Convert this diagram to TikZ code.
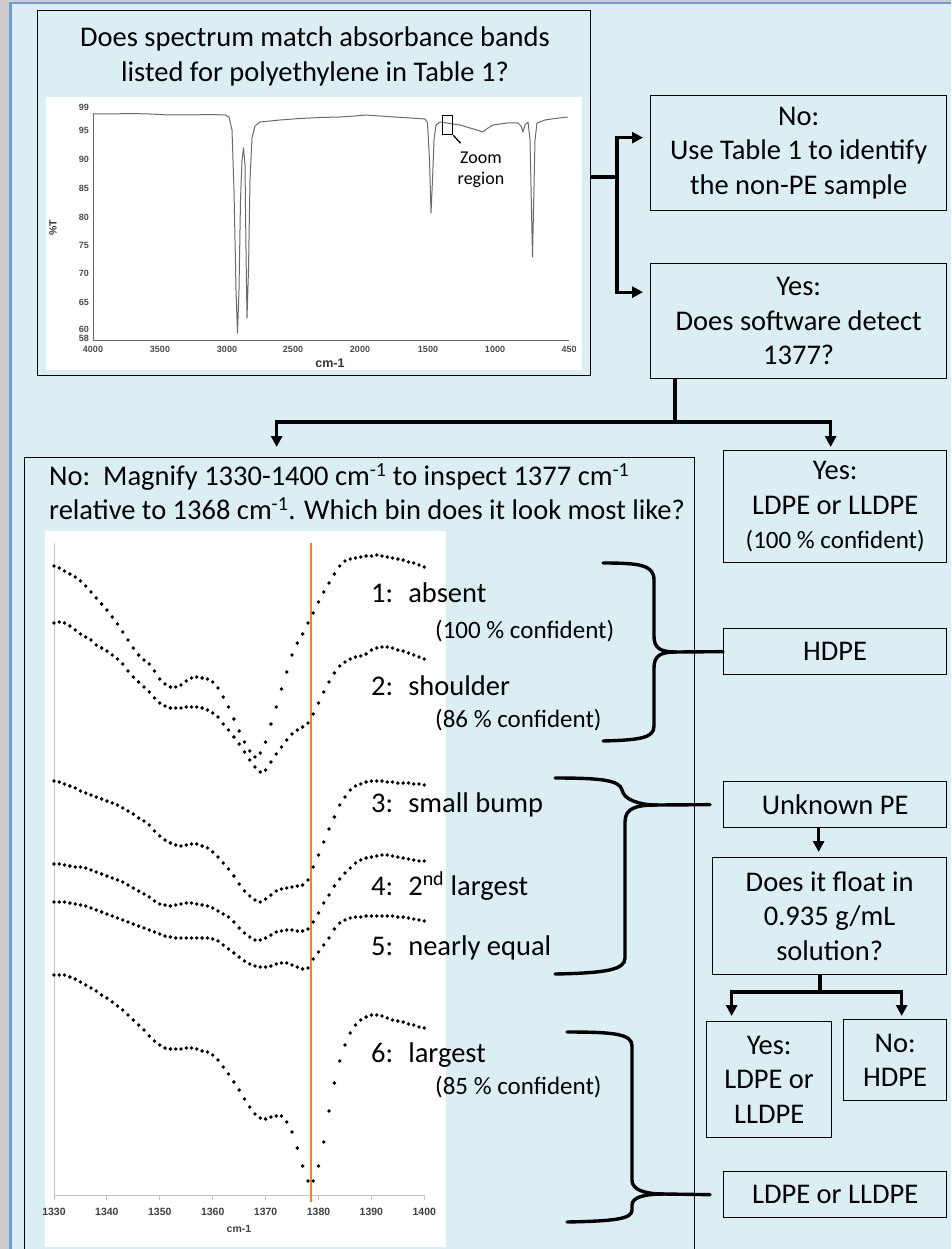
\documentclass[tikz,border=0pt]{standalone}
\usepackage{fontspec}
\setmainfont{Carlito}
\newfontfamily\axisfont{Liberation Sans}
\usetikzlibrary{arrows.meta,calc}
\definecolor{fondo}{HTML}{DAEEF3}
\definecolor{marco}{HTML}{6F9BD8}
\definecolor{gristira}{HTML}{CDCDCD}
\definecolor{naranja}{HTML}{F07F2F}
\definecolor{traza}{HTML}{6A6A6A}
\definecolor{eje}{HTML}{C4C4C4}
\newcommand\bigtxt{\fontsize{28.5}{34.5}\selectfont}
\newcommand\smalltxt{\fontsize{25}{30}\selectfont}
\newcommand\bindots[1]{\foreach \y [count=\i from 0] in {#1} \fill (54+5.29*\i,\y) circle[radius=1.9pt];}

\begin{document}
\begin{tikzpicture}[x=1pt, y=-1pt, font=\bigtxt,
  box/.style={draw, line width=1.3pt, align=center, inner sep=0pt, anchor=north west},
  lbl/.style={anchor=base west, inner sep=0pt},
  line/.style={line width=3.3pt},
  arr/.style={line width=3.3pt, -{Triangle[length=11pt,width=11pt]}},
  brace/.style={line width=3.4pt, line cap=round},
  specnum/.style={font=\axisfont\fontsize{9}{10}\selectfont\bfseries, text=black!70, inner sep=0pt},
  binnum/.style={font=\axisfont\fontsize{10.5}{12}\selectfont\bfseries, text=black!75, inner sep=0pt}]
\useasboundingbox (0,0) rectangle (951,1249);
% slide background
\fill[gristira] (0,0) rectangle (951,1249);
\fill[fondo] (11,3.5) rectangle (951,1249);
\draw[marco, line width=2.5pt] (10.5,1249) -- (10.5,3) -- (951,3);

% top question with the full spectrum
\node[box, minimum width=553pt, minimum height=365pt] (q1) at (37,10) {};
\node[anchor=north, align=center, inner sep=0pt] (q1title) at (315,27) {Does spectrum match absorbance bands\\listed for polyethylene in Table 1?};
\fill[white] (46,97) rectangle (582,370);
\draw[traza, line width=0.8pt] (93,113) -- (93,340) -- (569,340);
\foreach \v/\yy in {99/107,95/130,90/159,85/188,80/217,75/245,70/273,65/302,60/329,58/338}
  \node[specnum, anchor=east] (sy\v) at (89,\yy) {\v};
\foreach \w/\xx in {4000/93,3500/160,3000/227,2500/293,2000/360,1500/428,1000/495,450/569}
  \node[specnum] (sx\w) at (\xx,349) {\w};
\node[font=\axisfont\fontsize{12.5}{14}\selectfont\bfseries, text=black!80, inner sep=0pt] (specunit) at (330,363) {cm-1};
\node[font=\axisfont\fontsize{10.5}{12}\selectfont\bfseries, text=black!80, inner sep=0pt, rotate=90] (specT) at (53,228) {\%T};
\draw[traza, line width=1pt, line join=round] plot coordinates {(93,114) (110,114) (130,113.5) (150,114) (170,115) (190,115) (210,114.5) (225,115) (229,117) (232,130) (234,190) (236,290) (237.5,333) (239,290) (240.5,200) (242,160) (243.5,148) (245,165) (246,250) (247,318) (248.5,270) (250,180) (252,138) (255,126) (260,122) (280,120) (300,118.5) (320,117.5) (340,117) (355,116) (365,115) (380,116) (395,117) (410,118) (425,119) (427.5,123) (429.5,160) (431,213) (432.5,180) (434,140) (436,125) (440,122) (447,123) (460,125) (470,128) (477,130) (483,132) (488,128) (493,125) (507,123) (518,123) (521,126) (523,132) (525,125) (528,122) (530,140) (531.5,210) (532.5,257) (533.5,210) (535,140) (537,123) (545,120) (555,118.5) (568,117)};
\node[draw, line width=1.3pt, minimum width=10pt, minimum height=19pt, inner sep=0pt, anchor=north west] (zbox) at (442,115) {};
\node[font=\fontsize{18}{20.5}\selectfont, align=center, inner sep=0pt] (ztxt) at (481,170) {Zoom\\region};
\draw[line width=1.3pt] (zbox.south east) -- ([xshift=3pt,yshift=9pt]ztxt.north west);

% first decision
\node[box, minimum width=296pt, minimum height=115pt] (no1) at (650,95) {No:\\Use Table 1 to identify\\the non-PE sample};
\node[box, minimum width=296pt, minimum height=115pt] (yes1) at (650,263) {Yes:\\Does software detect\\1377?};
\coordinate (sp1) at (617,177);
\draw[line] (q1.east |- sp1) -- (sp1);
\draw[arr, shorten >=7pt] (sp1) |- ([yshift=15.5pt]no1.west);
\draw[arr, shorten >=7pt] (sp1) |- ([yshift=29pt]yes1.west);

% second decision
\node[box, minimum width=670pt, minimum height=820pt] (mag) at (24,457) {};
\node[anchor=north west, align=left, inner sep=0pt] (magtxt) at (49,463) {No:\ \ Magnify 1330-1400 cm\textsuperscript{-1} to inspect 1377 cm\textsuperscript{-1}\\relative to 1368 cm\textsuperscript{-1}. Which bin does it look most like?};
\node[box, minimum width=223pt, minimum height=112pt] (yes2) at (723,450) {Yes:\\LDPE or LLDPE\\{\smalltxt (100 \% confident)}};
\coordinate (sp2) at (675,422);
\draw[line] (sp2 |- yes1.south) -- (sp2);
\draw[arr, shorten >=10pt] (sp2) -| ([xshift=-83pt]mag.north);
\draw[arr, shorten >=3pt] (sp2) -| ([xshift=-4.5pt]yes2.north);

% magnified bins
\fill[white] (45,531) rectangle (446,1247);
\draw[eje, line width=0.9pt] (54,543) -- (54,1195) -- (424,1195);
\foreach \w [count=\k from 0] in {1330,1340,...,1400} {
  \draw[eje, line width=0.9pt] (54+52.9*\k,1195) -- ++(0,5);
  \node[binnum] (bx\w) at (54+52.9*\k,1212) {\w};
}
\node[binnum] (binunit) at (239,1229) {cm-1};
\draw[naranja, line width=2.2pt] (311,543) -- (311,1202);
\bindots{566,568,571,574,577,581,586,592,598,604,610,617,624,632,640,648,655,660,664,671,679,684,687,687,685,681,678,677,678,679,682,688,697,707,719,731,742,751,757,753,742,724,707,689,672,655,643,634,623,613,602,592,583,574,566,561,559,558,557,556,556,555,556,557,558,559,560,562,563,565,567}
\bindots{623,622,623,626,630,634,637,640,645,648,651,655,659,664,671,677,682,687,692,698,703,706,708,708,708,707,707,707,708,710,713,717,724,730,737,744,752,760,767,772,770,762,754,747,740,734,730,727,723,714,703,692,682,673,666,662,659,657,656,654,650,648,647,647,648,650,651,653,655,657,659}
\bindots{781,782,784,786,788,791,793,795,797,799,801,803,805,808,811,814,818,821,825,831,836,840,843,845,846,845,844,844,846,848,852,857,863,869,876,884,891,896,900,902,899,895,891,889,888,887,886,885,880,867,855,842,829,817,805,797,790,786,784,782,781,781,781,782,782,783,783,783,784,784,785}
\bindots{864,864,865,866,867,867,868,870,872,874,876,878,880,882,885,888,891,894,897,901,904,905,906,905,904,903,903,904,905,906,908,911,914,917,922,928,933,937,940,940,938,935,932,931,930,930,931,931,929,922,913,903,895,886,879,873,868,863,860,858,857,856,855,855,856,857,858,859,860,861,861}
\bindots{902,902,902,903,904,905,906,908,910,912,914,916,918,920,922,924,926,928,930,932,934,936,937,938,938,938,938,938,938,938,939,941,945,949,953,957,961,964,966,967,967,966,964,963,963,965,967,969,968,959,952,945,938,929,923,920,918,917,917,916,916,916,916,916,916,917,917,918,919,920,921}
\bindots{975,975,975,977,979,982,985,988,991,995,998,1002,1006,1010,1015,1020,1025,1030,1036,1041,1045,1048,1049,1049,1049,1048,1048,1049,1051,1052,1055,1060,1067,1074,1082,1090,1099,1107,1114,1118,1119,1117,1116,1116,1122,1132,1148,1166,1181,1181,1166,1142,1111,1083,1061,1045,1033,1025,1020,1017,1015,1015,1016,1018,1020,1021,1022,1024,1025,1027,1028}
\node[lbl] (bin1) at (371,602) {1:~ absent};
\node[lbl, font=\smalltxt] (conf1) at (435,638) {(100 \% confident)};
\node[lbl] (bin2) at (371,695) {2:~ shoulder};
\node[lbl, font=\smalltxt] (conf2) at (435,727) {(86 \% confident)};
\node[lbl] (bin3) at (371,812) {3:~ small bump};
\node[lbl] (bin4) at (371,895) {4:~ 2\textsuperscript{nd} largest};
\node[lbl] (bin5) at (371,955) {5:~ nearly equal};
\node[lbl] (bin6) at (371,1062) {6:~ largest};
\node[lbl, font=\smalltxt] (conf6) at (435,1094) {(85 \% confident)};

% outcomes
\node[box, minimum width=223pt, minimum height=46pt] (hdpe) at (723,628) {HDPE};
\node[box, minimum width=223pt, minimum height=46pt] (unk) at (723,781) {Unknown PE};
\node[box, minimum width=234pt, minimum height=117pt] (flt) at (712,857) {Does it float in\\0.935 g/mL\\solution?};
\node[box, minimum width=125pt, minimum height=116pt] (yes3) at (706,1021) {Yes:\\LDPE or\\LLDPE};
\node[box, minimum width=103pt, minimum height=81pt] (no3) at (843,1019) {No:\\HDPE};
\node[box, minimum width=223pt, minimum height=46pt] (ldpe) at (723,1171) {LDPE or LLDPE};
\draw[arr, shorten >=5pt] ([xshift=-16.5pt]unk.south) -- ([xshift=-16.5pt]unk.south |- flt.north);
\coordinate (sp3) at (820,992);
\draw[line] (sp3 |- flt.south) -- (sp3);
\draw[arr, shorten >=5pt] (sp3) -| ([xshift=-37.5pt]yes3.north);
\draw[arr, shorten >=3pt] (sp3) -| ([xshift=6.5pt]no3.north);

% braces
\coordinate (tip1) at (676,652);
\draw[brace] (603,563) .. controls (640,563) and (654,565) .. (654,580) -- (654,636) .. controls (654,648) and (660,652) .. (tip1);
\draw[brace] (tip1) .. controls (660,652) and (654,656) .. (654,668) -- (654,726) .. controls (654,738) and (640,740) .. (603,741);
\draw[brace] (tip1) -- (hdpe.west);
\coordinate (tip2) at (657,805);
\draw[brace] (555,778) .. controls (600,778) and (620,780) .. (622,790) .. controls (624,800) and (640,805) .. (tip2);
\draw[brace] (tip2) .. controls (636,805) and (625,808) .. (625,822) -- (625,958) .. controls (625,970) and (605,973) .. (555,974);
\draw[brace] (tip2) -- ([xshift=-13pt]unk.west);
\coordinate (tip3) at (664,1194);
\draw[brace] (567,1032) .. controls (615,1032) and (632,1034) .. (632,1046) -- (632,1180) .. controls (632,1190) and (645,1194) .. (tip3);
\draw[brace] (tip3) .. controls (645,1194) and (632,1197) .. (632,1205) -- (632,1210) .. controls (632,1219) and (615,1221) .. (567,1222);
\draw[brace] (tip3) -- ([xshift=-13pt]ldpe.west);
\end{tikzpicture}
\end{document}
